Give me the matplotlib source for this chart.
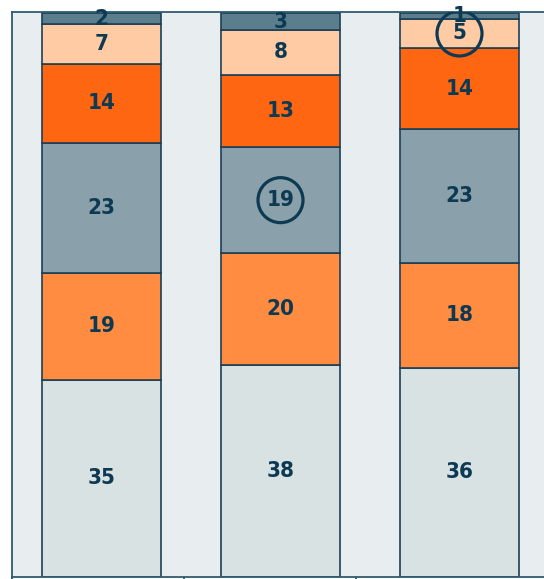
import numpy as np
from matplotlib import pyplot as plt

# Share of each segment per column, bottom to top
categories = ['A', 'B', 'C']
seg_bottom = [35, 38, 36]
seg_2 = [19, 20, 18]
seg_3 = [23, 19, 23]
seg_4 = [14, 13, 14]
seg_5 = [7, 8, 5]
seg_top = [2, 3, 1]

# Labels that get a ring around them: (column index, segment index)
highlighted = [(1, 2), (2, 4)]

colors = ['#d8e2e2', '#ff8c40', '#8aa0aa', '#ff6611', '#ffcba4', '#5b7e8c']
edge = '#1c3f55'
text_color = '#0d3a52'

segments = np.array([seg_bottom, seg_2, seg_3, seg_4, seg_5, seg_top], dtype=float)
totals = segments.sum(axis=0)
shares = segments / totals * 100

fig = plt.figure(figsize=(5.44, 5.79), dpi=100)
fig.patch.set_facecolor('white')
ax = fig.add_axes([12 / 544, 2 / 579, 537 / 544, 565 / 579])
ax.set_facecolor('#e8edef')

x = np.arange(len(categories))
bottom = np.zeros(len(categories))
for i in range(len(segments)):
    ax.bar(x, shares[i], bottom=bottom, width=0.67, color=colors[i],
           edgecolor=edge, linewidth=1.2)
    for j in range(len(categories)):
        yc = bottom[j] + shares[i][j] / 2
        ax.text(x[j], yc, str(int(segments[i][j])), ha='center', va='center',
                fontsize=16, fontweight='bold', fontstretch='condensed',
                color=text_color)
        if (j, i) in highlighted:
            ax.scatter([x[j]], [yc], s=1050, facecolors='none',
                       edgecolors=text_color, linewidths=2.3, zorder=5)
    bottom += shares[i]

ax.set_xlim(-0.5, 2.5)
ax.set_ylim(0, 100.2)
ax.set_xticks([-0.5, 0.46, 1.42])
ax.set_xticklabels([])
ax.set_yticks([])
ax.tick_params(axis='x', direction='out', length=4, color=edge, width=1.2)
ax.spines['right'].set_visible(False)
for side in ['left', 'bottom', 'top']:
    ax.spines[side].set_color('#2f5a70')
    ax.spines[side].set_linewidth(1.3)

plt.savefig('out.png', dpi=100)
